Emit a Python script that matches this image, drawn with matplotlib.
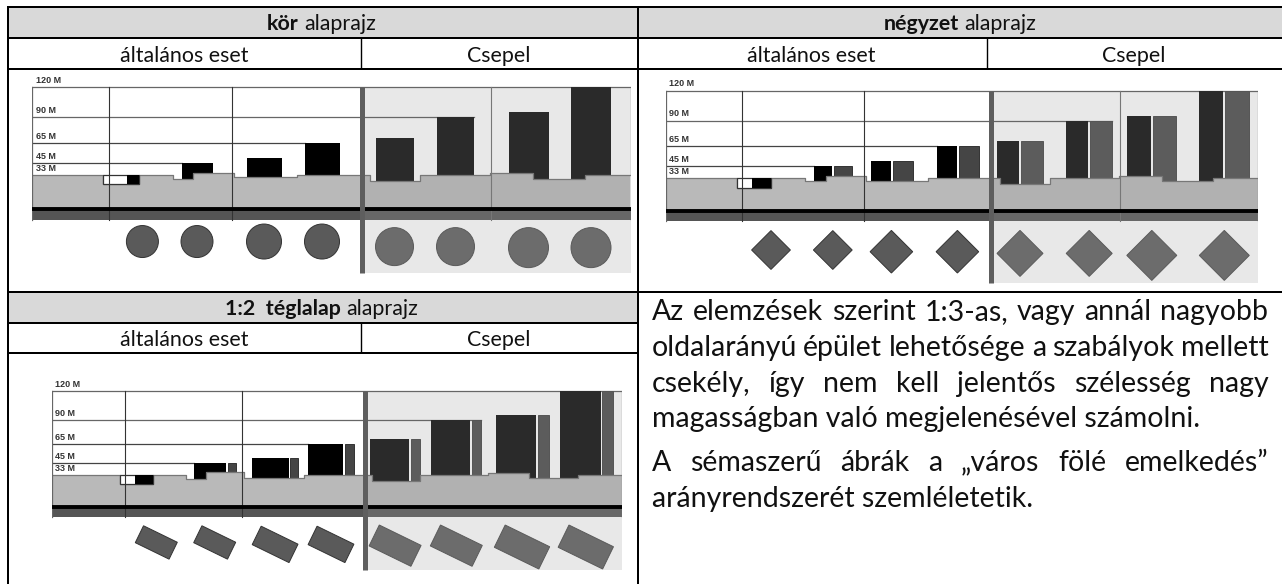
import numpy as np
import matplotlib
matplotlib.use("Agg")
import matplotlib.pyplot as plt
from matplotlib.patches import Ellipse, Polygon, Rectangle

plt.rcParams['font.family'] = ['Lato', 'Open Sans', 'DejaVu Sans']

# magassagi szintek
levels = [120, 90, 65, 45, 33]
level_labels = ['120 M', '90 M', '65 M', '45 M', '33 M']

# kor alaprajz
kor_edges = [0, 71, 106.5, 140.8, 161.2, 202, 265.3, 338, 388, 458.4, 500.8, 552.7, 598]
kor_ground = [33, 24.3, 33, 30, 35, 31, 33, 28, 33, 35, 30, 33]
kor_dividers = [77, 200, 459]
kor_split = 330
kor_front_left = [94.5, 150, 215, 273, 344, 405, 476.6, 539]
kor_front_right = [107, 181, 250, 308, 381.5, 442, 516.6, 579]
kor_top = [33, 45, 50, 65, 70, 90, 95, 120]
kor_bottom = [24.3, 30, 31, 33, 28, 33, 30, 30]
kor_cx = [110.4, 165, 232, 290, 362.5, 423.5, 496.5, 559]
kor_cy = [-32, -32, -32, -32, -37, -37, -38, -38]
kor_size = [32, 32, 35, 35, 38, 38, 40, 40]

# negyzet alaprajz
negyzet_edges = [0, 70.8, 105.6, 139.6, 160, 199.8, 262, 333.7, 383.7, 453.3, 496.3, 547.5, 592.5]
negyzet_ground = [33, 23, 33, 30, 35, 30, 33, 27, 33, 35, 30, 33]
negyzet_dividers = [75.8, 197.8, 453.7]
negyzet_split = 325
negyzet_front_left = [86, 147.8, 204.8, 270.7, 331.3, 400, 461.5, 533.6]
negyzet_front_right = [105.6, 166.3, 225.2, 291.2, 353.4, 422.6, 485.3, 557.3]
negyzet_side_left = [None, 167.9, 226.9, 293.2, 355, 424.2, 486.9, 559]
negyzet_side_right = [None, 186.7, 247.3, 313.3, 377.6, 446.4, 510.2, 583.1]
negyzet_top = [33, 45, 50, 65, 70, 90, 95, 120]
negyzet_bottom = [23, 29, 29.7, 33, 27, 33, 30, 30]
negyzet_cx = [105.2, 167, 225.6, 291.6, 354.2, 423.4, 486, 558.5]
negyzet_cy = [-39.3, -39.3, -41, -41, -42.7, -42.7, -44.7, -44.7]
negyzet_size = [19.4, 19.4, 21.3, 21.3, 23, 23, 25, 25]

# teglalap alaprajz
teglalap_edges = [0, 67.8, 101.6, 134.3, 153.9, 192.2, 252.2, 320, 368.6, 436.3, 477.1, 526, 570]
teglalap_ground = [33, 23.8, 33, 29, 35.5, 30, 33, 27, 33, 35, 30, 33]
teglalap_dividers = [72.7, 190.2]
teglalap_split = 313
teglalap_front_left = [83.3, 142, 200, 256, 318, 379.6, 443.7, 508]
teglalap_front_right = [101.6, 174.3, 236.7, 291.4, 357, 418, 484.5, 549]
teglalap_side_left = [None, 175.9, 238, 293, 358.8, 420, 486, 550.6]
teglalap_side_right = [None, 184, 246, 302, 368.6, 429.4, 496.7, 561.2]
teglalap_top = [33, 45, 50, 65, 70, 90, 95, 120]
teglalap_bottom = [23.8, 29, 29.7, 33, 27, 33, 30, 30]
teglalap_cx = [104.5, 162.9, 223.3, 279.2, 343.3, 404.5, 470.2, 534]
teglalap_cy = [-37, -37, -39, -39, -40.3, -40.3, -41.7, -41.7]
teglalap_size = [37.6, 37.6, 41, 41, 46.5, 46.5, 49.5, 49.5]

W = 1282
H = 584
LINE = 2.0 * 72 / 100
fig = plt.figure(figsize=(W / 100, H / 100), dpi=100)
base = fig.add_axes([0, 0, 1, 1])
base.set_xlim(0, W)
base.set_ylim(H, 0)
base.axis('off')
renderer = fig.canvas.get_renderer()


def szoveg_szelesseg(t):
    return t.get_window_extent(renderer).width


def fejlec(x, y, parts, size=15.4):
    # felkover + normal darabok kozepre igazitva
    texts = []
    for s, w in parts:
        texts.append(base.text(0, y, s, fontsize=size, fontweight=w, va='baseline', ha='left', color='#111111'))
    gap = 5
    total = sum(szoveg_szelesseg(t) for t in texts) + gap * (len(texts) - 1)
    pos = x - total / 2
    for t in texts:
        t.set_x(pos)
        pos += szoveg_szelesseg(t) + gap


def sorkizart(x0, x1, y, line, size, justify=True):
    if not justify:
        base.text(x0, y, line, fontsize=size, va='baseline', ha='left', color='#111111')
        return
    words = [base.text(0, y, w, fontsize=size, va='baseline', ha='left', color='#111111') for w in line.split()]
    widths = [szoveg_szelesseg(t) for t in words]
    gap = (x1 - x0 - sum(widths)) / (len(words) - 1)
    pos = x0
    for t, w in zip(words, widths):
        t.set_x(pos)
        pos += w + gap


def abra(box, edges, ground, dividers, split, f_left, f_right, tops, bottoms,
         cx, cy, sizes, shape, s_left=None, s_right=None, bg_low=-63, pit_left=71):
    # box: bal szel, szelesseg, y(0 m), y(120 m) pixelben
    left, width, y0, y120 = box
    scale = (y0 - y120) / 120.0
    low = bg_low - 3
    top_px = y120 - 12 * scale
    bottom_px = y0 - low * scale
    ax = fig.add_axes([left / W, 1 - bottom_px / H, width / W, (bottom_px - top_px) / H])
    ax.set_xlim(0, width)
    ax.set_ylim(low, 132)
    ax.axis('off')

    ax.add_patch(Rectangle((split, bg_low), width - split, 120 - bg_low, fc='#e8e8e8', ec='none', zorder=0))

    xs = np.array(edges, dtype=float)
    ys = np.array(list(ground) + [ground[-1]], dtype=float)
    ax.fill_between(xs, 0, ys, step='post', color='#b9b9b9', lw=0, zorder=2)
    csepel = ax.fill_between(xs, 0, ys, step='post', color='#b1b1b1', lw=0, zorder=2.1)
    csepel.set_clip_path(Rectangle((split, -100), width, 300, transform=ax.transData))
    ax.step(xs, ys, where='post', color='#777777', lw=0.9, zorder=3)

    # epuletek: a terep takarja az aljukat
    ax.add_patch(Rectangle((pit_left, bottoms[0]), f_right[0] - pit_left, tops[0] - bottoms[0],
                           fc='white', ec='#333333', lw=0.9, zorder=3.2))
    for i in range(len(tops)):
        c = '#000000' if f_left[i] < split else '#2a2a2a'
        z = 3.3 if i == 0 else 1.5
        ax.add_patch(Rectangle((f_left[i], bottoms[i]), f_right[i] - f_left[i], tops[i] - bottoms[i],
                               fc=c, ec='none', zorder=z))
        if s_left is not None and s_left[i] is not None:
            c2 = '#454545' if f_left[i] < split else '#5c5c5c'
            ax.add_patch(Rectangle((s_left[i], bottoms[i]), s_right[i] - s_left[i], tops[i] - bottoms[i],
                                   fc=c2, ec='#333333' if f_left[i] < split else '#555555', lw=0.7, zorder=1.5))

    # szintvonalak
    r90 = f_right[5] if s_right is None else s_right[5]
    reach = [width, r90, f_left[3], f_left[1], None]
    for lev, lab, r in zip(levels, level_labels, reach):
        if r is not None:
            ax.plot([0, r], [lev, lev], color='#666666' if lev in (120, 90) else '#444444', lw=0.9, zorder=1.2)
        ax.text(3.5, lev + 2.2, lab, fontsize=6.5, fontweight='bold', family='Liberation Sans',
                color='#333333', va='bottom', ha='left', zorder=5)
    ax.plot([0, 0], [-10.7, 120], color='#666666', lw=0.9, zorder=3)
    ax.plot([width, width], [-10.7, 120], color='#888888', lw=0.9, zorder=3)

    # talaj savok
    ax.add_patch(Rectangle((0, -10.7), split, 10.7, fc='#555555', ec='none', zorder=2))
    ax.add_patch(Rectangle((split, -10.7), width - split, 10.7, fc='#676767', ec='none', zorder=2))
    for d in dividers:
        gen = d < split
        ax.plot([d, d], [-10.7, 120], color='#333333' if gen else '#777777', lw=0.8, zorder=3.5)
    ax.plot([-2, width + 2], [0, 0], color='#000000', lw=2.8, zorder=6, solid_capstyle='round')
    ax.plot([split, split], [bg_low, 120], color='#5e5e5e', lw=3.6, zorder=7, solid_capstyle='butt')

    # alaprajzok
    for x, y, s in zip(cx, cy, sizes):
        gen = x < split
        fc = '#5a5a5a' if gen else '#6c6c6c'
        ec = '#333333' if gen else '#5a5a5a'
        ky = 1 / scale  # a pixel kepben legyen szabalyos
        if shape == 'kor':
            ax.add_patch(Ellipse((x, y), s, s * ky, fc=fc, ec=ec, lw=0.7, zorder=4))
        elif shape == 'negyzet':
            ax.add_patch(Polygon([(x - s, y), (x, y + s * ky), (x + s, y), (x, y - s * ky)],
                                 fc=fc, ec=ec, lw=0.7, zorder=4))
        else:
            a = np.deg2rad(-26)
            u = np.array([np.cos(a), np.sin(a)]) * s / 2
            v = np.array([-np.sin(a), np.cos(a)]) * s / 4
            c = np.array([x, 0.0])
            pts = [c + u + v, c + u - v, c - u - v, c - u + v]
            pts = [(p[0], y + p[1] * ky) for p in pts]
            ax.add_patch(Polygon(pts, fc=fc, ec=ec, lw=0.7, zorder=4))


# tablazat hatter es racs
base.add_patch(Rectangle((7, 7), W - 7, 31, fc='#d9d9d9', ec='none'))
base.add_patch(Rectangle((7, 292), 631, 31, fc='#d9d9d9', ec='none'))
for y in [7, 38, 69, 292]:
    base.plot([7, W], [y, y], color='black', lw=LINE, solid_capstyle='butt')
for y in [323, 353]:
    base.plot([7, 638], [y, y], color='black', lw=LINE, solid_capstyle='butt')
base.plot([7.5, 7.5], [6, H], color='black', lw=LINE, solid_capstyle='butt')
base.plot([638, 638], [6, H], color='black', lw=LINE, solid_capstyle='butt')
base.plot([361, 361], [38, 69], color='black', lw=LINE * 0.7, solid_capstyle='butt')
base.plot([361, 361], [323, 353], color='black', lw=LINE * 0.7, solid_capstyle='butt')
base.plot([986.5, 986.5], [38, 69], color='black', lw=LINE * 0.7, solid_capstyle='butt')

fejlec(321.5, 30.5, [('kör', 'bold'), ('alaprajz', 'normal')])
fejlec(960, 30.5, [('négyzet', 'bold'), ('alaprajz', 'normal')])
fejlec(321.5, 315, [('1:2  téglalap', 'bold'), ('alaprajz', 'normal')])
fejlec(184, 61.5, [('általános eset', 'normal')])
fejlec(499, 61.5, [('Csepel', 'normal')])
fejlec(811, 61.5, [('általános eset', 'normal')])
fejlec(1134, 61.5, [('Csepel', 'normal')])
fejlec(184, 345.5, [('általános eset', 'normal')])
fejlec(499, 345.5, [('Csepel', 'normal')])

body = [
    ('Az elemzések szerint 1:3-as, vagy annál nagyobb', True, 320),
    ('oldalarányú épület lehetősége a szabályok mellett', True, 355.7),
    ('csekély, így nem kell jelentős szélesség nagy', True, 391.7),
    ('magasságban való megjelenésével számolni.', False, 427.3),
    ('A sémaszerű ábrák a „város fölé emelkedés”', True, 470.7),
    ('arányrendszerét szemléletetik.', False, 506.7),
]
for line, just, y in body:
    sorkizart(651.5, 1268.5, y, line, 20.5, justify=just)

abra((32, 599, 209, 87), kor_edges, kor_ground, kor_dividers, kor_split, kor_front_left, kor_front_right,
     kor_top, kor_bottom, kor_cx, kor_cy, kor_size, 'kor', bg_low=-63, pit_left=71)
abra((665.8, 592.5, 210.7, 90.7), negyzet_edges, negyzet_ground, negyzet_dividers, negyzet_split,
     negyzet_front_left, negyzet_front_right, negyzet_top, negyzet_bottom, negyzet_cx, negyzet_cy,
     negyzet_size, 'negyzet', negyzet_side_left, negyzet_side_right, bg_low=-72, pit_left=70.8)
abra((51.8, 570, 506.7, 390.7), teglalap_edges, teglalap_ground, teglalap_dividers, teglalap_split,
     teglalap_front_left, teglalap_front_right, teglalap_top, teglalap_bottom, teglalap_cx, teglalap_cy,
     teglalap_size, 'teglalap', teglalap_side_left, teglalap_side_right, bg_low=-65, pit_left=67.8)

fig.savefig('out.png', dpi=100)
